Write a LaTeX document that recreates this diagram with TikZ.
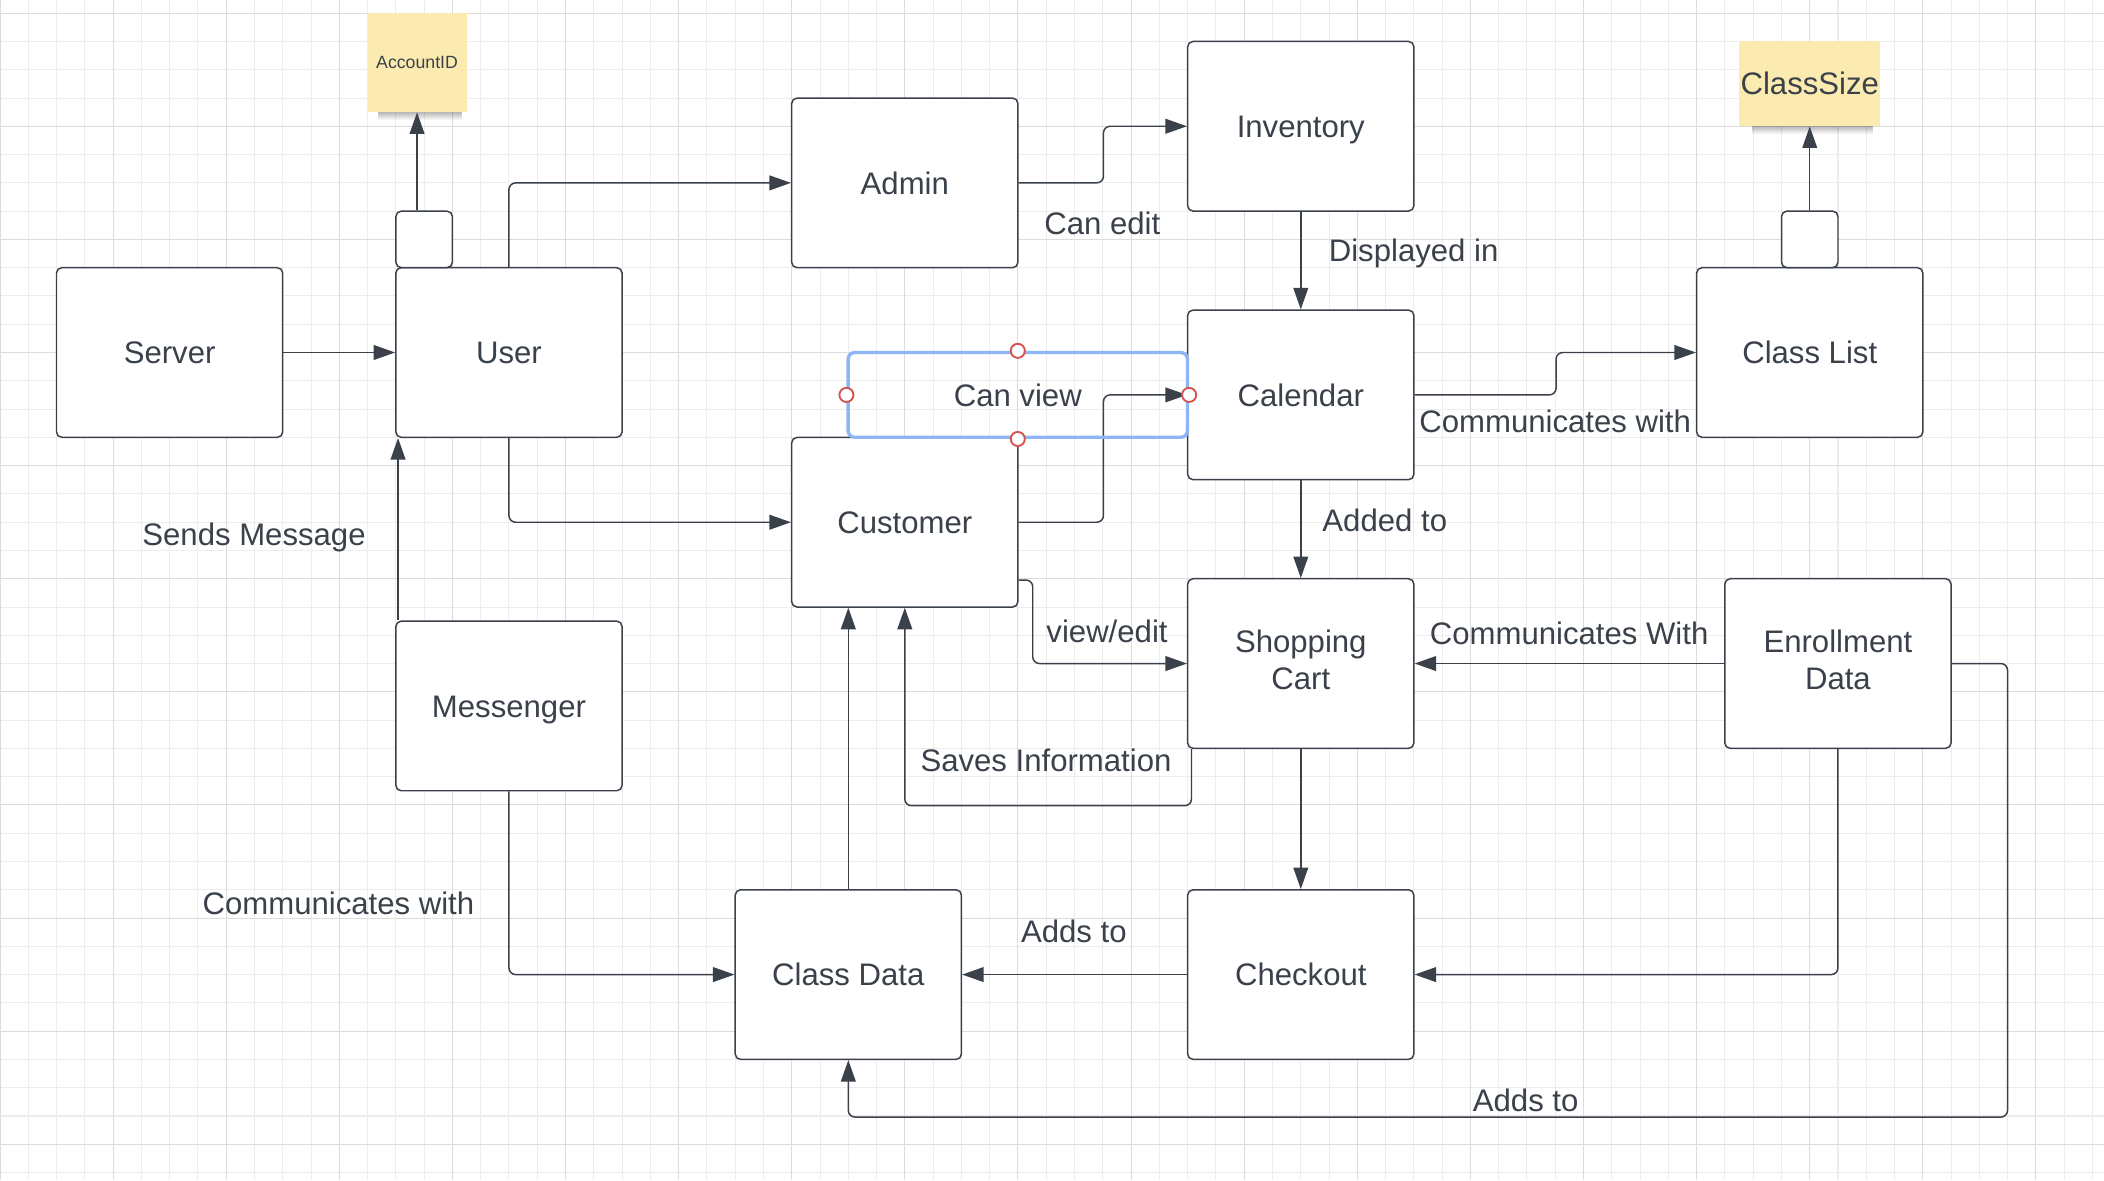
\documentclass[tikz,border=0pt]{standalone}
\usepackage{fontspec}
\setmainfont{Liberation Sans}
\usetikzlibrary{arrows.meta,fadings}
\definecolor{ink}{HTML}{3A414A}
\definecolor{gridminor}{HTML}{EDEDED}
\definecolor{gridmajor}{HTML}{DCDCDC}
\definecolor{sticky}{HTML}{FCEBB0}
\definecolor{selblue}{HTML}{8DB6F6}
\definecolor{handlered}{HTML}{D65252}
\newcommand{\labfont}{\fontsize{23.2}{27.5}\selectfont}
\newcommand{\smallnotefont}{\fontsize{13.2}{15.8}\selectfont}
\tikzset{
  ent/.style={draw=ink, line width=1.1pt, rounded corners=4pt, fill=white,
    minimum width=168.6pt, minimum height=126.4pt, inner sep=0pt, align=center,
    font=\labfont, text=ink},
  entone/.style={ent, text height=16.6pt, text depth=0pt},
  enttwo/.style={ent, text height=44.3pt, text depth=5.7pt},
  tabbox/.style={draw=ink, line width=1.1pt, rounded corners=4pt, fill=white,
    minimum width=42.1pt, minimum height=42.1pt, inner sep=0pt},
  note/.style={fill=sticky, inner sep=0pt, text=ink, align=center},
  conn/.style={draw=ink, line width=1.1pt, rounded corners=5pt,
    -{Triangle[length=16pt,width=11pt]}},
  lab/.style={font=\labfont, text=ink, inner sep=0pt, text height=16.6pt, text depth=0pt},
  handle/.style={circle, draw=handlered, fill=white, line width=1.4pt,
    minimum size=10.5pt, inner sep=0pt},
}
\begin{document}
\begin{tikzpicture}[x=1pt,y=-1pt]
\useasboundingbox (0,0) rectangle (1568,879.4);
\fill[white] (0,0) rectangle (1568,879.4);
% grid
\foreach \k in {0,...,74} {
  \pgfmathsetmacro{\gx}{\k*21.073}
  \draw[gridminor, line width=0.75pt] (\gx,0) -- (\gx,879.4);
}
\foreach \k in {0,...,41} {
  \pgfmathsetmacro{\gy}{9.84+\k*21.073}
  \draw[gridminor, line width=0.75pt] (0,\gy) -- (1568,\gy);
}
\foreach \k in {0,4,...,72} {
  \pgfmathsetmacro{\gx}{\k*21.073}
  \draw[gridmajor, line width=0.75pt] (\gx,0) -- (\gx,879.4);
}
\foreach \k in {0,4,...,40} {
  \pgfmathsetmacro{\gy}{9.84+\k*21.073}
  \draw[gridmajor, line width=0.75pt] (0,\gy) -- (1568,\gy);
}

% sticky notes with soft shadows
\fill[black, opacity=0.28, path fading=south] (282,83.6) rectangle (344,89.5);
\node[note, minimum width=73.8pt, minimum height=73.8pt, font=\smallnotefont] (acc) at (310.8,46.7) {AccountID};
\fill[black, opacity=0.28, path fading=south] (1306,94.1) rectangle (1396,100);
\node[note, minimum width=105.4pt, minimum height=63.2pt, font=\labfont, text height=16.6pt, text depth=0pt] (csize) at (1348.7,62.5) {ClassSize};

% entities
\node[entone] (server) at (126.4,262.7) {Server};
\node[entone] (user) at (379.3,262.7) {User};
\node[tabbox] (utab) at (316.1,178.4) {};
\node[entone] (admin) at (674.3,136.3) {Admin};
\node[entone] (inv) at (969.4,94.1) {Inventory};
\node[entone] (cal) at (969.4,294.3) {Calendar};
\node[entone] (clist) at (1348.7,262.7) {Class List};
\node[tabbox] (ctab) at (1348.7,178.4) {};
\node[entone] (cust) at (674.3,389.2) {Customer};
\node[enttwo] (cart) at (969.4,494.5) {Shopping\\Cart};
\node[enttwo] (enroll) at (1369.7,494.5) {Enrollment\\Data};
\node[entone] (msg) at (379.3,526.1) {Messenger};
\node[entone] (cdata) at (632.2,726.3) {Class Data};
\node[entone] (chk) at (969.4,726.3) {Checkout};

\coordinate (loop) at (1496.1,832.5);

% connectors
\draw[conn] (server.east) -- (user.west);
\draw[conn] (acc.south |- utab.north) -- (acc.south);
\draw[conn] (user.north) |- (admin.west);
\draw[conn] (admin.east) -- ++(63.2,0) |- (inv.west);
\draw[conn] (inv.south) -- (cal.north);
\draw[conn] (cal.east) -- ++(105.4,0) |- (clist.west);
\draw[conn] (ctab.north) -- (csize.south);
\draw[conn] (user.south) |- (cust.west);
\draw[conn] (cust.east) -- ++(63.2,0) |- (cal.west);
\draw[conn] (cal.south) -- (cart.north);
\draw[conn] ([yshift=-43.1pt]cust.east) -- ++(10.5,0) |- (cart.west);
\draw[conn] ([xshift=3.4pt]cart.south west) -- ++(0,42.2) -| (cust.south);
\draw[conn] (enroll.west) -- (cart.east);
\draw[conn] (cart.south) -- (chk.north);
\draw[conn] (enroll.south) |- (chk.east);
\draw[conn] (chk.west) -- (cdata.east);
\draw[conn] (enroll.east) -| (loop) -| (cdata.south);
\draw[conn] (cdata.north) -- (cdata.north |- cust.south);
\draw[conn] (msg.south) |- (cdata.west);
\draw[conn] ([xshift=2.2pt]msg.north west) -- ([xshift=2.2pt]user.south west);

% connector labels
\node[lab] (lcanedit) at (821.5,166.5) {Can edit};
\node[lab] (ldisp) at (1053.5,186.5) {Displayed in};
\node[lab] (lcomm1) at (1159,314.2) {Communicates with};
\node[lab] (ladded) at (1032,387.5) {Added to};
\node[lab] (lview) at (825,470.5) {view/edit};
\node[lab] (lsaves) at (779.5,566.4) {Saves Information};
\node[lab] (lcomm2) at (1169.4,472) {Communicates With};
\node[lab] (ladds1) at (800.3,693.8) {Adds to};
\node[lab] (ladds2) at (1137,819.8) {Adds to};
\node[lab] (lsends) at (189.3,398) {Sends Message};
\node[lab] (lcomm3) at (252.2,673) {Communicates with};

% selected "Can view" label box with handles
\node[draw=selblue, line width=2.5pt, rounded corners=5pt, minimum width=252.9pt,
  minimum height=63.2pt, inner sep=0pt, font=\labfont, text=ink,
  text height=16.6pt, text depth=0pt] (canview) at (758.5,294.3) {Can view};
\node[handle] (hn) at (canview.north) {};
\node[handle] (hs) at (canview.south) {};
\node[handle] (hw) at (canview.west) {};
\node[handle] (he) at (canview.east) {};
\end{tikzpicture}
\end{document}
